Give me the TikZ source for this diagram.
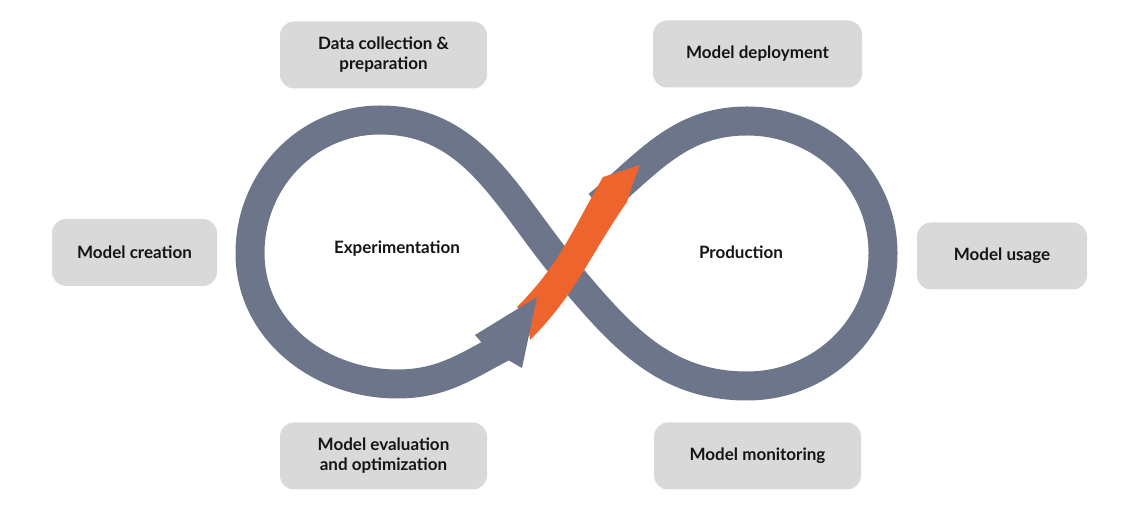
\documentclass[tikz,border=0pt]{standalone}
\usepackage{fontspec}
\setmainfont{Lato}
\usepackage{xcolor}
\definecolor{loopgray}{RGB}{108,117,137}
\definecolor{accentorange}{RGB}{238,100,45}
\definecolor{boxgray}{RGB}{217,217,217}

\begin{document}
\begin{tikzpicture}[x=1pt, y=1pt,
		stage/.style={fill=boxgray, rounded corners=14pt, minimum height=67pt, align=center,
			font=\fontsize{17}{20}\selectfont\bfseries, text=black!92},
		phase/.style={font=\fontsize{17}{20}\selectfont\bfseries, text=black!92}]
		\useasboundingbox (0,0) rectangle (1142,505);

		\node[stage, minimum width=207pt] (datacol) at (383.5,450) {Data collection \&\\preparation};
		\node[stage, minimum width=209pt] (deploy) at (757.5,451) {Model deployment};
		\node[stage, minimum width=165pt] (create) at (134.5,252.5) {Model creation};
		\node[stage, minimum width=170pt] (usage) at (1002,249) {Model usage};
		\node[stage, minimum width=207pt] (evalopt) at (383.5,49) {Model evaluation\\and optimization};
		\node[stage, minimum width=207pt] (monitor) at (757.5,49) {Model monitoring};

		% infinity loop
		\draw[loopgray, line width=29pt] (598,300) to[out=40,in=180] (747,384)
			to[out=0,in=90] (883,252) to[out=-90,in=0] (747,119)
			to[out=180,in=-50] (567,233) to[out=130,in=0] (380,385)
			to[out=180,in=90] (250,252) to[out=-90,in=180] (397,121)
			to[out=0,in=208] (503,158);

		\fill[accentorange] (517,198) to[out=45,in=240] (603,328) -- (640,340) -- (633,322)
			-- (627,303) to[out=235,in=45] (530,165) -- (527,190) -- cycle;
		\fill[loopgray] (482,162) -- (475,170) -- (537,208) -- (522,137) -- (508,145) -- cycle;

		\node[phase] (expe) at (397,256) {Experimentation};
		\node[phase] (prod) at (741,253) {Production};
	\end{tikzpicture}
\end{document}
